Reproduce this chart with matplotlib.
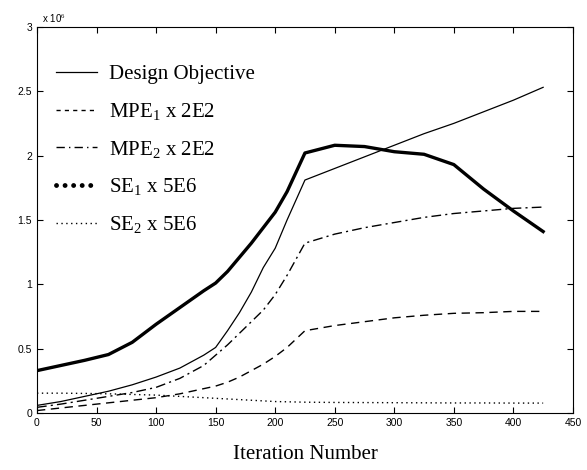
import matplotlib
matplotlib.use("Agg")
from matplotlib import pyplot as plt
from matplotlib.lines import Line2D

plt.rcParams['mathtext.fontset'] = 'custom'
plt.rcParams['mathtext.rm'] = 'Liberation Serif'
plt.rcParams['mathtext.it'] = 'Liberation Serif:italic'

# iteration numbers where the curves were read
it = [0, 20, 40, 60, 80, 100, 120, 140, 150, 160, 170, 180, 190, 200, 210, 225,
      250, 275, 300, 325, 350, 375, 400, 425]

# values in units of 1e6
design = [0.06, 0.09, 0.13, 0.17, 0.22, 0.28, 0.35, 0.45, 0.51, 0.64, 0.78, 0.94, 1.13, 1.28, 1.50, 1.81,
          1.90, 1.99, 2.08, 2.17, 2.25, 2.34, 2.43, 2.53]
mpe1 = [0.02, 0.04, 0.06, 0.08, 0.10, 0.12, 0.15, 0.19, 0.21, 0.24, 0.28, 0.33, 0.38, 0.44, 0.51, 0.64,
        0.68, 0.71, 0.74, 0.76, 0.775, 0.78, 0.79, 0.79]
mpe2 = [0.045, 0.07, 0.10, 0.13, 0.16, 0.20, 0.27, 0.37, 0.45, 0.53, 0.62, 0.71, 0.80, 0.92, 1.07, 1.32,
        1.39, 1.44, 1.48, 1.52, 1.55, 1.57, 1.59, 1.60]
se1 = [0.33, 0.37, 0.41, 0.455, 0.55, 0.69, 0.82, 0.95, 1.01, 1.10, 1.21, 1.32, 1.44, 1.56, 1.72, 2.02,
       2.08, 2.07, 2.03, 2.01, 1.93, 1.74, 1.57, 1.41]
se2 = [0.155, 0.155, 0.153, 0.15, 0.145, 0.14, 0.13, 0.12, 0.115, 0.11, 0.105, 0.10, 0.095, 0.09, 0.088, 0.085,
       0.083, 0.082, 0.081, 0.080, 0.079, 0.079, 0.078, 0.078]

labels = ['Design Objective', 'MPE$_1$ x 2E2', 'MPE$_2$ x 2E2', 'SE$_1$ x 5E6', 'SE$_2$ x 5E6']

fig = plt.figure(figsize=(5.87, 4.70), dpi=100)
ax = fig.add_axes([0.063, 0.121, 0.913, 0.822])

ax.plot(it, design, color='k', lw=0.9)
ax.plot(it, mpe1, color='k', lw=1.0, ls=(0, (6, 4)))
ax.plot(it, mpe2, color='k', lw=1.0, ls=(0, (7, 3, 1.5, 3)))
ax.plot(it, se1, color='k', lw=2.4)
ax.plot(it, se2, color='k', lw=1.0, ls=(0, (1, 2.5)))

ax.set_xlim(0, 450)
ax.set_ylim(0, 3)
ax.set_xticks(range(0, 451, 50))
ax.set_yticks([0, 0.5, 1, 1.5, 2, 2.5, 3])
ax.set_yticklabels(['0', '0.5', '1', '1.5', '2', '2.5', '3'])
ax.tick_params(direction='in', top=True, right=True, labelsize=7.5, length=4)
for lab in ax.get_xticklabels() + ax.get_yticklabels():
    lab.set_fontfamily('Liberation Sans')
ax.text(0.01, 1.005, 'x 10$^6$', transform=ax.transAxes, fontsize=7,
        fontfamily='Liberation Sans', va='bottom')
ax.set_xlabel('Iteration Number', fontsize=15, fontfamily='Liberation Serif', labelpad=12)

handles = [
    Line2D([], [], color='k', lw=0.9),
    Line2D([], [], color='k', lw=1.0, ls=(0, (3, 3))),
    Line2D([], [], color='k', lw=1.0, ls=(0, (6, 3, 1, 3))),
    Line2D([], [], color='k', lw=3.5, ls=(0, (0.01, 1.75)), dash_capstyle='round'),
    Line2D([], [], color='k', lw=1.0, ls=(0, (1, 2.5))),
]
ax.legend(handles, labels, loc='upper left', bbox_to_anchor=(0.0, 0.95),
          frameon=False, handlelength=2.0, handletextpad=0.55, labelspacing=0.8,
          prop={'family': 'Liberation Serif', 'size': 15})

fig.savefig('out.png', dpi=100)
